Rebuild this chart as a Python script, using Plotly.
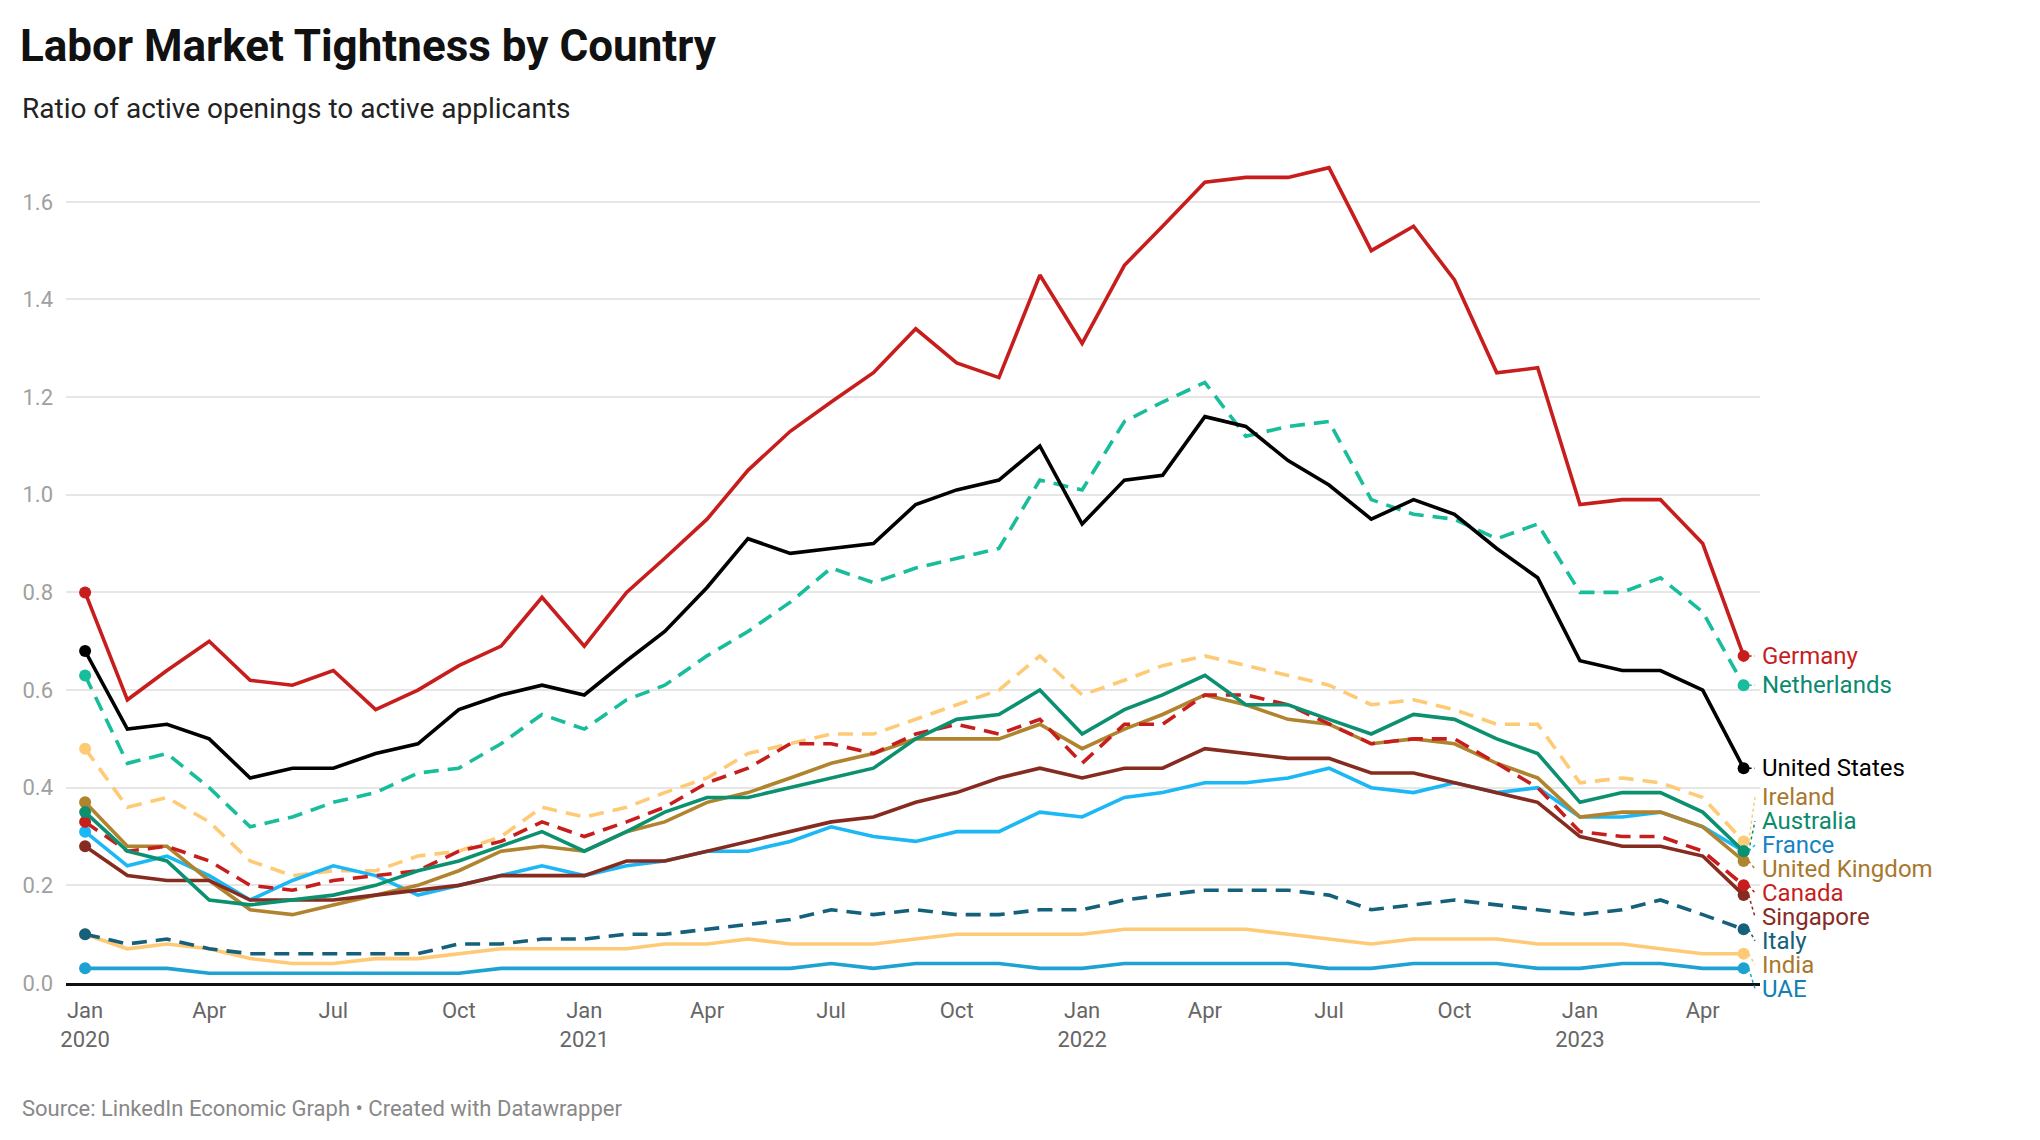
import pandas as pd
import plotly.graph_objects as go

# monthly observations, Jan 2020 .. May 2023
months = pd.date_range("2020-01-01", "2023-05-01", freq="MS")

germany = [0.80, 0.58, 0.64, 0.70, 0.62, 0.61, 0.64, 0.56, 0.60, 0.65, 0.69, 0.79,
           0.69, 0.80, 0.87, 0.95, 1.05, 1.13, 1.19, 1.25, 1.34, 1.27, 1.24, 1.45,
           1.31, 1.47, 1.55, 1.64, 1.65, 1.65, 1.67, 1.50, 1.55, 1.44, 1.25, 1.26,
           0.98, 0.99, 0.99, 0.90, 0.67]
netherlands = [0.63, 0.45, 0.47, 0.40, 0.32, 0.34, 0.37, 0.39, 0.43, 0.44, 0.49, 0.55,
               0.52, 0.58, 0.61, 0.67, 0.72, 0.78, 0.85, 0.82, 0.85, 0.87, 0.89, 1.03,
               1.01, 1.15, 1.19, 1.23, 1.12, 1.14, 1.15, 0.99, 0.96, 0.95, 0.91, 0.94,
               0.80, 0.80, 0.83, 0.76, 0.61]
united_states = [0.68, 0.52, 0.53, 0.50, 0.42, 0.44, 0.44, 0.47, 0.49, 0.56, 0.59, 0.61,
                 0.59, 0.66, 0.72, 0.81, 0.91, 0.88, 0.89, 0.90, 0.98, 1.01, 1.03, 1.10,
                 0.94, 1.03, 1.04, 1.16, 1.14, 1.07, 1.02, 0.95, 0.99, 0.96, 0.89, 0.83,
                 0.66, 0.64, 0.64, 0.60, 0.44]
ireland = [0.48, 0.36, 0.38, 0.33, 0.25, 0.22, 0.23, 0.23, 0.26, 0.27, 0.30, 0.36,
           0.34, 0.36, 0.39, 0.42, 0.47, 0.49, 0.51, 0.51, 0.54, 0.57, 0.60, 0.67,
           0.59, 0.62, 0.65, 0.67, 0.65, 0.63, 0.61, 0.57, 0.58, 0.56, 0.53, 0.53,
           0.41, 0.42, 0.41, 0.38, 0.29]
australia = [0.35, 0.27, 0.25, 0.17, 0.16, 0.17, 0.18, 0.20, 0.23, 0.25, 0.28, 0.31,
             0.27, 0.31, 0.35, 0.38, 0.38, 0.40, 0.42, 0.44, 0.50, 0.54, 0.55, 0.60,
             0.51, 0.56, 0.59, 0.63, 0.57, 0.57, 0.54, 0.51, 0.55, 0.54, 0.50, 0.47,
             0.37, 0.39, 0.39, 0.35, 0.27]
france = [0.31, 0.24, 0.26, 0.22, 0.17, 0.21, 0.24, 0.22, 0.18, 0.20, 0.22, 0.24,
          0.22, 0.24, 0.25, 0.27, 0.27, 0.29, 0.32, 0.30, 0.29, 0.31, 0.31, 0.35,
          0.34, 0.38, 0.39, 0.41, 0.41, 0.42, 0.44, 0.40, 0.39, 0.41, 0.39, 0.40,
          0.34, 0.34, 0.35, 0.32, 0.27]
united_kingdom = [0.37, 0.28, 0.28, 0.21, 0.15, 0.14, 0.16, 0.18, 0.20, 0.23, 0.27, 0.28,
                  0.27, 0.31, 0.33, 0.37, 0.39, 0.42, 0.45, 0.47, 0.50, 0.50, 0.50, 0.53,
                  0.48, 0.52, 0.55, 0.59, 0.57, 0.54, 0.53, 0.49, 0.50, 0.49, 0.45, 0.42,
                  0.34, 0.35, 0.35, 0.32, 0.25]
canada = [0.33, 0.27, 0.28, 0.25, 0.20, 0.19, 0.21, 0.22, 0.23, 0.27, 0.29, 0.33,
          0.30, 0.33, 0.36, 0.41, 0.44, 0.49, 0.49, 0.47, 0.51, 0.53, 0.51, 0.54,
          0.45, 0.53, 0.53, 0.59, 0.59, 0.57, 0.53, 0.49, 0.50, 0.50, 0.45, 0.40,
          0.31, 0.30, 0.30, 0.27, 0.20]
singapore = [0.28, 0.22, 0.21, 0.21, 0.17, 0.17, 0.17, 0.18, 0.19, 0.20, 0.22, 0.22,
             0.22, 0.25, 0.25, 0.27, 0.29, 0.31, 0.33, 0.34, 0.37, 0.39, 0.42, 0.44,
             0.42, 0.44, 0.44, 0.48, 0.47, 0.46, 0.46, 0.43, 0.43, 0.41, 0.39, 0.37,
             0.30, 0.28, 0.28, 0.26, 0.18]
italy = [0.10, 0.08, 0.09, 0.07, 0.06, 0.06, 0.06, 0.06, 0.06, 0.08, 0.08, 0.09,
         0.09, 0.10, 0.10, 0.11, 0.12, 0.13, 0.15, 0.14, 0.15, 0.14, 0.14, 0.15,
         0.15, 0.17, 0.18, 0.19, 0.19, 0.19, 0.18, 0.15, 0.16, 0.17, 0.16, 0.15,
         0.14, 0.15, 0.17, 0.14, 0.11]
india = [0.10, 0.07, 0.08, 0.07, 0.05, 0.04, 0.04, 0.05, 0.05, 0.06, 0.07, 0.07,
         0.07, 0.07, 0.08, 0.08, 0.09, 0.08, 0.08, 0.08, 0.09, 0.10, 0.10, 0.10,
         0.10, 0.11, 0.11, 0.11, 0.11, 0.10, 0.09, 0.08, 0.09, 0.09, 0.09, 0.08,
         0.08, 0.08, 0.07, 0.06, 0.06]
uae = [0.03, 0.03, 0.03, 0.02, 0.02, 0.02, 0.02, 0.02, 0.02, 0.02, 0.03, 0.03,
       0.03, 0.03, 0.03, 0.03, 0.03, 0.03, 0.04, 0.03, 0.04, 0.04, 0.04, 0.03,
       0.03, 0.04, 0.04, 0.04, 0.04, 0.04, 0.03, 0.03, 0.04, 0.04, 0.04, 0.03,
       0.03, 0.04, 0.04, 0.03, 0.03]

tick_dates = pd.date_range("2020-01-01", "2023-04-01", freq="QS")
tick_labels = ["Jan<br>2020", "Apr", "Jul", "Oct",
               "Jan<br>2021", "Apr", "Jul", "Oct",
               "Jan<br>2022", "Apr", "Jul", "Oct",
               "Jan<br>2023", "Apr"]
y_ticks = [0.0, 0.2, 0.4, 0.6, 0.8, 1.0, 1.2, 1.4, 1.6]

# name, values, line colour, label colour, dash  (drawing order: bottom -> top)
DASH = "15px,9px"
series = [
    ("UAE", uae, "#1ea2d2", "#1280b2", "solid"),
    ("India", india, "#ffca76", "#a8782c", "solid"),
    ("Italy", italy, "#15607a", "#15607a", DASH),
    ("Ireland", ireland, "#ffca76", "#a8782c", DASH),
    ("Netherlands", netherlands, "#18bd9b", "#0b8a70", DASH),
    ("France", france, "#1bb8f5", "#1582c6", "solid"),
    ("United Kingdom", united_kingdom, "#b0832f", "#a8782c", "solid"),
    ("Singapore", singapore, "#862b1f", "#862b1f", "solid"),
    ("Canada", canada, "#c71e1d", "#c71e1d", DASH),
    ("Australia", australia, "#0b9170", "#0b8a6c", "solid"),
    ("United States", united_states, "#000000", "#000000", "solid"),
    ("Germany", germany, "#c71e1d", "#c71e1d", "solid"),
]

# page body has an 8px margin, so the figure is 8px smaller each way
W, H = 2032, 1132
ML, MR, MT, MB = 58, 280, 145, 157
PW, PH = W - ML - MR, H - MT - MB
Y_MAX = 1.7
X_RANGE = [pd.Timestamp("2019-12-18"), pd.Timestamp("2023-05-13")]
FONT = "Roboto"


def px_x(px):
    return (px - ML) / PW


def px_y(px):
    return (H - MB - px) / PH


def spread_labels(values, gap):
    # group overlapping labels, centre each group on its members' mean
    order = sorted(range(len(values)), key=lambda k: (-values[k], -k))
    groups = [[i] for i in order]
    while True:
        pos = {}
        for g in groups:
            c = sum(values[i] for i in g) / len(g)
            for k, i in enumerate(g):
                pos[i] = c + gap * ((len(g) - 1) / 2 - k)
        merged = False
        for a in range(len(groups) - 1):
            if pos[groups[a][-1]] - pos[groups[a + 1][0]] < gap - 1e-9:
                groups[a] = groups[a] + groups[a + 1]
                del groups[a + 1]
                merged = True
                break
        if not merged:
            return pos


fig = go.Figure()
for name, vals, color, _, dash in series:
    fig.add_trace(go.Scatter(x=months, y=vals, mode="lines", name=name,
                             line=dict(color=color, width=3.6, dash=dash)))
    fig.add_trace(go.Scatter(x=[months[0], months[-1]], y=[vals[0], vals[-1]],
                             mode="markers", marker=dict(color=color, size=12),
                             cliponaxis=False))

# direct labels on the right with dotted connectors
end_vals = [s[1][-1] for s in series]
label_pos = spread_labels(end_vals, 0.049)
span = (X_RANGE[1] - X_RANGE[0]).total_seconds()
x_last = (months[-1] - X_RANGE[0]).total_seconds() / span
for i, (name, vals, color, label_color, _) in enumerate(series):
    fig.add_shape(type="line", xref="x domain", yref="y domain",
                  x0=x_last + 5 / PW, y0=vals[-1] / Y_MAX,
                  x1=1 - 5 / PW, y1=label_pos[i] / Y_MAX,
                  line=dict(color=color, width=1.5, dash="dot"))
    fig.add_annotation(text=name, xref="x domain", yref="y domain",
                       x=1, y=label_pos[i] / Y_MAX, xanchor="left", yanchor="middle",
                       showarrow=False, font=dict(family=FONT, size=24, color=label_color))

fig.add_annotation(text="Ratio of active openings to active applicants", xref="paper", yref="paper",
                   x=px_x(12), y=px_y(100), xanchor="left", yanchor="middle", showarrow=False,
                   font=dict(family=FONT, size=28, color="#222222"))
fig.add_annotation(text="Source: LinkedIn Economic Graph • Created with Datawrapper",
                   xref="paper", yref="paper", x=px_x(12), y=px_y(1100),
                   xanchor="left", yanchor="middle", showarrow=False,
                   font=dict(family=FONT, size=22, color="#888888"))

fig.update_layout(
    width=W, height=H,
    margin=dict(l=ML, r=MR, t=MT, b=MB),
    paper_bgcolor="white", plot_bgcolor="white",
    showlegend=False, hovermode=False,
    font=dict(family=FONT),
    title=dict(text="<b>Labor Market Tightness by Country</b>", xref="container", yref="container",
               x=12 / W, y=1 - 38 / H, xanchor="left", yanchor="middle",
               font=dict(family=FONT, size=44, color="#111111")),
    xaxis=dict(range=X_RANGE, tickvals=tick_dates, ticktext=tick_labels, showgrid=False,
               showline=True, linecolor="#111111", linewidth=2.5, ticks="",
               ticklabelstandoff=6, tickfont=dict(family=FONT, size=22, color="#666666"),
               zeroline=False),
    yaxis=dict(range=[0, Y_MAX], tickvals=y_ticks, tickformat=".1f", showgrid=True,
               gridcolor="#e6e6e6", gridwidth=2, zeroline=False, showline=False, ticks="",
               ticklabelstandoff=12, tickfont=dict(family=FONT, size=22, color="#a0a0a0")),
)

fig.write_html("out.html")
